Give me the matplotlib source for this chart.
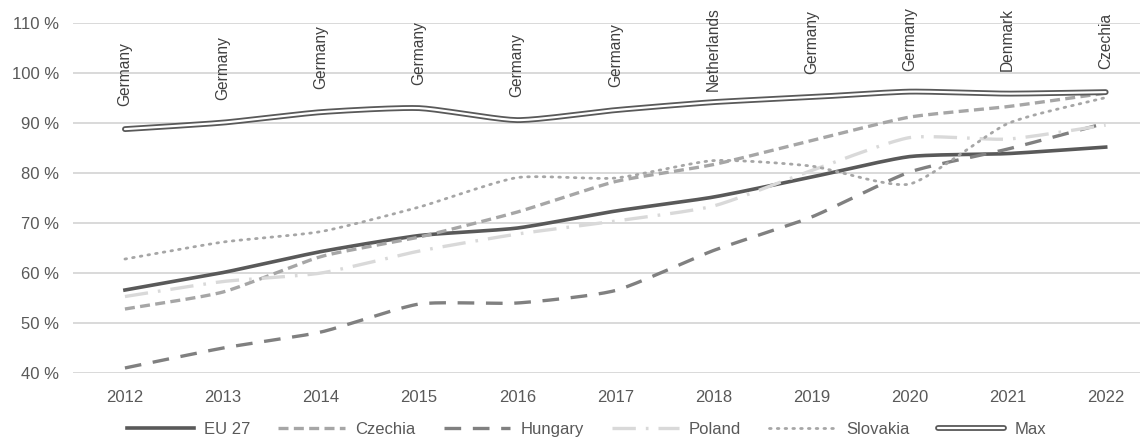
import numpy as np
import matplotlib
matplotlib.use("Agg")
import matplotlib.pyplot as plt
from matplotlib.lines import Line2D
from matplotlib.legend_handler import HandlerTuple
from matplotlib.ticker import FuncFormatter

years = [2012, 2013, 2014, 2015, 2016, 2017, 2018, 2019, 2020, 2021, 2022]
eu27 = [56.6, 60.1, 64.3, 67.5, 69.0, 72.4, 75.2, 79.2, 83.3, 83.9, 85.2]
czechia = [52.8, 56.2, 63.3, 67.2, 72.2, 78.3, 81.7, 86.5, 91.2, 93.3, 96.0]
hungary = [41.0, 45.0, 48.2, 53.8, 54.0, 56.5, 64.5, 71.2, 80.2, 84.8, 90.0]
poland = [55.3, 58.3, 60.0, 64.4, 67.8, 70.4, 73.4, 80.5, 87.1, 86.8, 89.6]
slovakia = [62.8, 66.2, 68.3, 73.2, 79.1, 79.0, 82.5, 81.4, 77.8, 89.9, 95.1]
max_vals = [88.8, 90.1, 92.2, 93.0, 90.6, 92.6, 94.2, 95.2, 96.3, 95.9, 96.2]
max_countries = ["Germany", "Germany", "Germany", "Germany", "Germany", "Germany",
                 "Netherlands", "Germany", "Germany", "Denmark", "Czechia"]
yticks = [40, 50, 60, 70, 80, 90, 100, 110]

FONT = ["Liberation Sans", "DejaVu Sans"]
plt.rcParams["font.family"] = FONT
TXT = "#595959"
DPI = 100


def smooth(xs, ys, n=20, c=0.6):
    xs = np.asarray(xs, float)
    ys = np.asarray(ys, float)
    m = len(xs)
    def tangents(a):
        t = np.zeros(m)
        t[1:-1] = (a[2:] - a[:-2]) / 2 * c
        t[0] = (a[1] - a[0]) * c
        t[-1] = (a[-1] - a[-2]) * c
        return t
    tx, ty = tangents(xs), tangents(ys)
    ox, oy = [], []
    s = np.linspace(0, 1, n, endpoint=False)
    h00 = 2 * s**3 - 3 * s**2 + 1
    h10 = s**3 - 2 * s**2 + s
    h01 = -2 * s**3 + 3 * s**2
    h11 = s**3 - s**2
    for i in range(m - 1):
        ox.extend(h00 * xs[i] + h10 * tx[i] + h01 * xs[i + 1] + h11 * tx[i + 1])
        oy.extend(h00 * ys[i] + h10 * ty[i] + h01 * ys[i + 1] + h11 * ty[i + 1])
    ox.append(xs[-1])
    oy.append(ys[-1])
    return np.array(ox), np.array(oy)


fig = plt.figure(figsize=(11.4, 4.37), dpi=DPI)
ax = fig.add_axes([0.064, 0.1465, 0.936, 0.8005])

styles = [
    ("EU 27", eu27, dict(color="#595959", lw=2.6, ls="-")),
    ("Czechia", czechia, dict(color="#A6A6A6", lw=2.4, ls=(0, (3, 1.6)))),
    ("Hungary", hungary, dict(color="#808080", lw=2.4, ls=(0, (5, 3.5)))),
    ("Poland", poland, dict(color="#D9D9D9", lw=2.4, ls=(0, (7, 3, 0.8, 3)))),
    ("Slovakia", slovakia, dict(color="#A6A6A6", lw=2.0, ls=(0, (0.6, 2.2)),
                                dash_capstyle="round")),
]
handles = []
labels = []
for name, vals, st in styles:
    sx, sy = smooth(years, vals)
    ax.plot(sx, sy, zorder=3, **st)
    handles.append(Line2D([], [], **st))
    labels.append(name)

sx, sy = smooth(years, max_vals)
ax.plot(sx, sy, color="#595959", lw=4.2, solid_capstyle="round", zorder=4)
ax.plot(sx, sy, color="white", lw=1.6, solid_capstyle="round", zorder=5)
h_out = Line2D([], [], color="#595959", lw=4.2, solid_capstyle="round")
h_in = Line2D([], [], color="white", lw=1.6, solid_capstyle="round")
handles.append((h_out, h_in))
labels.append("Max")

ax.set_xlim(2011.47, 2022.35)
ax.set_ylim(40, 110)

# data labels above the Max line, pushed down when they would leave the chart
fig_h_px = fig.get_figheight() * DPI
gap_px = 23
top_px = fig_h_px - 7
annots = []
for x, y, c in zip(years, max_vals, max_countries):
    a = ax.annotate(c, (x, y), xytext=(0, gap_px * 72 / DPI), textcoords="offset points",
                    rotation=90, ha="center", va="bottom", fontsize=11.2,
                    color="#404040", annotation_clip=False)
    annots.append(a)
fig.canvas.draw()
renderer = fig.canvas.get_renderer()
for a, x, y in zip(annots, years, max_vals):
    bb = a.get_window_extent(renderer)
    py = ax.transData.transform((x, y))[1]
    h = bb.height
    off = min(gap_px, top_px - py - h)
    a.xyann = (0, off * 72 / DPI)

ax.set_yticks(yticks)
ax.yaxis.set_major_formatter(FuncFormatter(lambda v, p: f"{int(v)} %"))
ax.set_xticks(years)
ax.set_xticklabels([str(y) for y in years])
ax.grid(axis="y", color="#D9D9D9", lw=1.4)
ax.set_axisbelow(True)
for s in ax.spines.values():
    s.set_visible(False)
ax.tick_params(axis="both", length=0, labelsize=12, colors=TXT)
ax.tick_params(axis="x", pad=12)
ax.tick_params(axis="y", pad=10)

leg = fig.legend(handles, labels, loc="lower center", bbox_to_anchor=(0.5145, -0.035),
                 ncol=6, frameon=False, fontsize=12, handlelength=4.0,
                 columnspacing=1.7, handletextpad=0.6,
                 handler_map={tuple: HandlerTuple(ndivide=1)})
for t in leg.get_texts():
    t.set_color(TXT)

fig.savefig("out.png", dpi=DPI)
